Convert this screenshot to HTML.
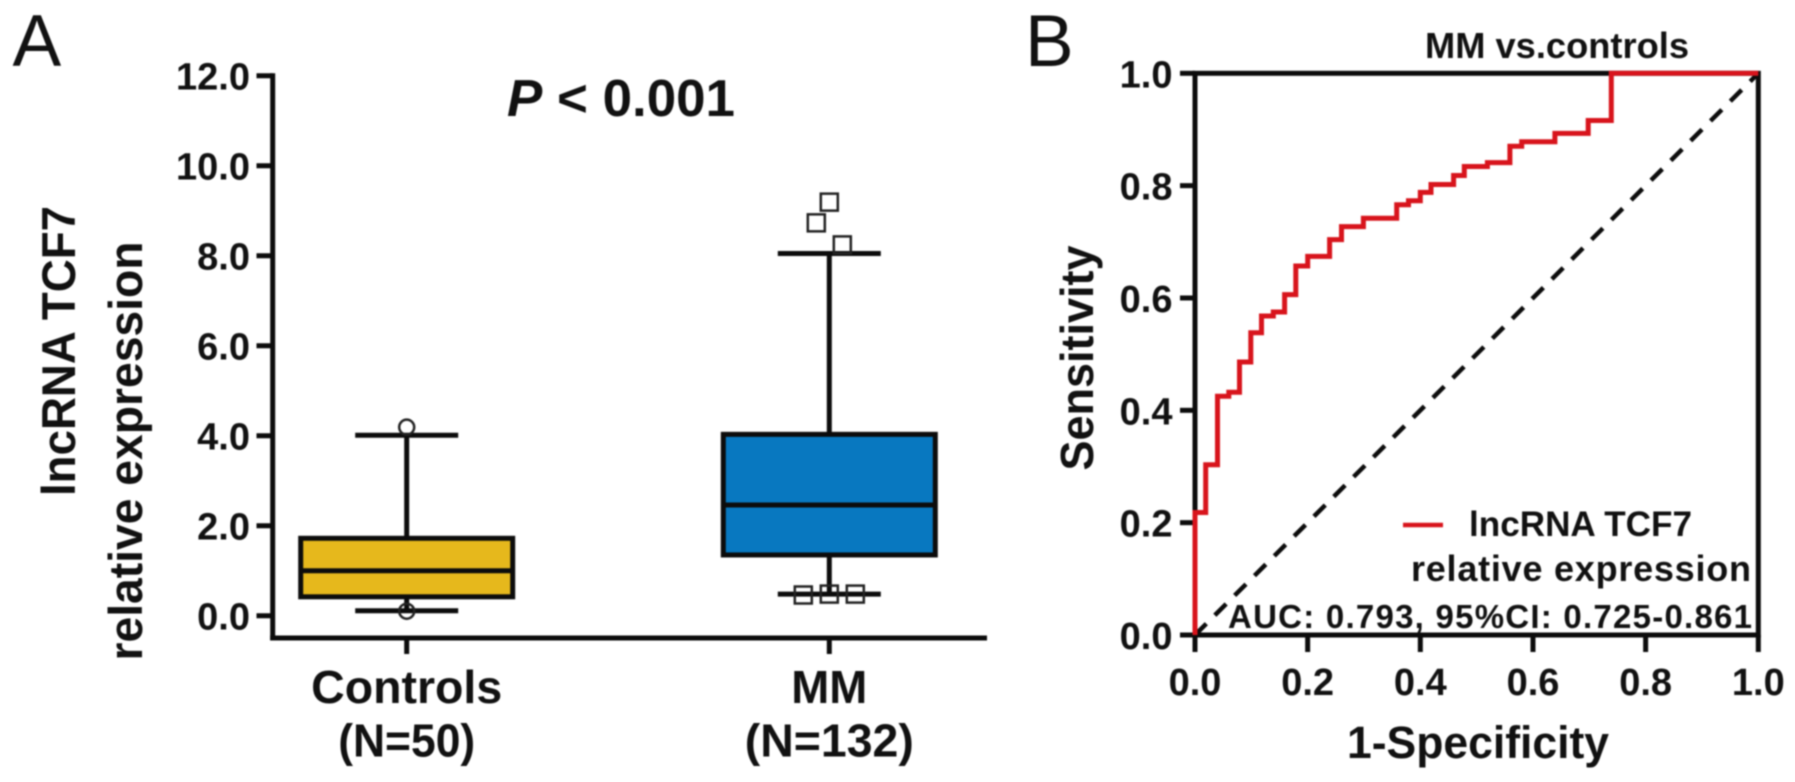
<!DOCTYPE html>
<html lang="en">
<head>
<meta charset="utf-8">
<title>lncRNA TCF7 expression and ROC curve</title>
<style>
html,body{margin:0;padding:0;background:#fff;width:1795px;height:782px;overflow:hidden}
svg{display:block;filter:blur(0.7px)}
text{font-family:"Liberation Sans",sans-serif;fill:#111;font-weight:bold}
</style>
</head>
<body>
<svg id="fig" xmlns="http://www.w3.org/2000/svg" width="1795" height="782" viewBox="0 0 1795 782">
  <text x="12.5" y="66" font-size="73" style="font-weight:normal">A</text>
  <text x="1025" y="66" font-size="73" style="font-weight:normal">B</text>

  <text x="507" y="116" font-size="52" textLength="228" lengthAdjust="spacingAndGlyphs"><tspan font-style="italic">P</tspan> &lt; 0.001</text>
  <text transform="translate(75,351) rotate(-90)" text-anchor="middle" font-size="47" textLength="290" lengthAdjust="spacingAndGlyphs">lncRNA TCF7</text>
  <text transform="translate(142,451) rotate(-90)" text-anchor="middle" font-size="47" textLength="419" lengthAdjust="spacingAndGlyphs">relative expression</text>

  <text x="1557" y="58" text-anchor="middle" font-size="36" textLength="264" lengthAdjust="spacingAndGlyphs">MM vs.controls</text>
  <text transform="translate(1093,358) rotate(-90)" text-anchor="middle" font-size="46" textLength="225" lengthAdjust="spacingAndGlyphs">Sensitivity</text>
  <text x="1478" y="758" text-anchor="middle" font-size="45" textLength="262" lengthAdjust="spacingAndGlyphs">1-Specificity</text>

  <g id="panelA"></g>
  <g id="panelB"></g>

  <line x1="1403" y1="525" x2="1443" y2="525" stroke="#d8141c" stroke-width="4.5"/>
  <text x="1469" y="536" font-size="35" textLength="223" lengthAdjust="spacingAndGlyphs">lncRNA TCF7</text>
  <text x="1411" y="581" font-size="36" textLength="340" lengthAdjust="spacing">relative expression</text>
  <text x="1228" y="628" font-size="33" textLength="524" lengthAdjust="spacing">AUC: 0.793, 95%CI: 0.725-0.861</text>
</svg>

<script>
// Box plot data
const boxCategories = ["Controls", "MM"];
const boxGroupSizes = ["(N=50)", "(N=132)"];
const boxQ1 = [0.42, 1.35];
const boxMedian = [1.0, 2.46];
const boxQ3 = [1.72, 4.03];
const boxWhiskerLow = [0.11, 0.48];
const boxWhiskerHigh = [4.01, 8.05];
const controlsOutliers = [4.19, 0.1];
const mmOutliers = [9.19, 8.73, 8.24, 0.48, 0.46, 0.48];
const boxYTicks = [0, 2, 4, 6, 8, 10, 12];

// ROC data (step vertices)
const rocFpr = [0, 0, 0.019, 0.019, 0.040, 0.040, 0.060, 0.060, 0.079, 0.079, 0.099, 0.099, 0.118, 0.118, 0.139, 0.139, 0.159, 0.159, 0.179, 0.179, 0.2, 0.2, 0.239, 0.239, 0.26, 0.26, 0.299, 0.299, 0.358, 0.358, 0.379, 0.379, 0.40, 0.40, 0.419, 0.419, 0.459, 0.459, 0.478, 0.478, 0.519, 0.519, 0.559, 0.559, 0.58, 0.58, 0.639, 0.639, 0.698, 0.698, 0.739, 0.739, 1];
const rocTpr = [0, 0.218, 0.218, 0.303, 0.303, 0.425, 0.425, 0.432, 0.432, 0.486, 0.486, 0.538, 0.538, 0.568, 0.568, 0.575, 0.575, 0.606, 0.606, 0.657, 0.657, 0.674, 0.674, 0.704, 0.704, 0.727, 0.727, 0.742, 0.742, 0.766, 0.766, 0.773, 0.773, 0.788, 0.788, 0.802, 0.802, 0.818, 0.818, 0.834, 0.834, 0.841, 0.841, 0.87, 0.87, 0.878, 0.878, 0.893, 0.893, 0.916, 0.916, 1, 1];
const rocTicks = [0, 0.2, 0.4, 0.6, 0.8, 1.0];

const NS = "http://www.w3.org/2000/svg";
const INK = "#0c0c0c";
function mk(parent, tag, attrs) {
  const e = document.createElementNS(NS, tag);
  for (const k in attrs) e.setAttribute(k, attrs[k]);
  parent.appendChild(e);
  return e;
}
function line(parent, x1, y1, x2, y2, w, color) {
  return mk(parent, "line", {x1: x1, y1: y1, x2: x2, y2: y2, stroke: color || INK, "stroke-width": w});
}

// ---------- Panel A ----------
const pa = document.getElementById("panelA");
const yA = v => 615.7 - v * 45;
const xA = i => 406.7 + i * 422.6;
const AW = 5;

// y axis
let el = line(pa, 272.7, yA(12) - 2.5, 272.7, 640.5, AW);


// x axis
el = line(pa, 270.2, 638, 987, 638, AW);



boxYTicks.forEach(v => {
  const t = line(pa, 256.5, yA(v), 272.7, yA(v), AW);
  
  
  const l = mk(pa, "text", {x: 250, y: yA(v) + 14, "text-anchor": "end", "font-size": 38});
  l.textContent = v.toFixed(1);
  
  
});

const boxFills = ["#e6b81c", "#0878c0"];
const halfBox = 106, halfCap = 51.5;

// spread near-equal outliers sideways the way the plotting tool does
function dodge(values) {
  let side = -1;
  return values.map((v, i) => {
    if (i === 0) return 0;
    const d = Math.abs(v - values[i - 1]);
    if (d > 1) { side = -1; return 0; }
    const step = d < 0.1 ? 26 : 13;
    const r = side * step;
    side = -side;
    return r;
  });
}

boxCategories.forEach((name, i) => {
  const cx = xA(i);
  const tick = line(pa, cx, 638, cx, 654, AW);
  
  

  const w1 = line(pa, cx, yA(boxWhiskerHigh[i]), cx, yA(boxQ3[i]), AW);
  
  
  const w2 = line(pa, cx, yA(boxQ1[i]), cx, yA(boxWhiskerLow[i]), AW);
  
  
  const c1 = line(pa, cx - halfCap, yA(boxWhiskerHigh[i]), cx + halfCap, yA(boxWhiskerHigh[i]), AW);
  
  
  const c2 = line(pa, cx - halfCap, yA(boxWhiskerLow[i]), cx + halfCap, yA(boxWhiskerLow[i]), AW);
  
  

  const box = mk(pa, "rect", {x: cx - halfBox, y: yA(boxQ3[i]), width: halfBox * 2, height: yA(boxQ1[i]) - yA(boxQ3[i]), fill: boxFills[i], stroke: INK, "stroke-width": AW});
  
  
  const med = line(pa, cx - halfBox, yA(boxMedian[i]), cx + halfBox, yA(boxMedian[i]), AW);
  
  

  const catWidths = [191, 76];
  const sizeWidths = [137, 169];
  const l1 = mk(pa, "text", {x: cx, y: 703, "text-anchor": "middle", "font-size": 46, textLength: catWidths[i], lengthAdjust: "spacingAndGlyphs"});
  l1.textContent = name;
  
  
  const l2 = mk(pa, "text", {x: cx, y: 756.5, "text-anchor": "middle", "font-size": 46, textLength: sizeWidths[i], lengthAdjust: "spacingAndGlyphs"});
  l2.textContent = boxGroupSizes[i];
  
  
});

controlsOutliers.forEach(v => {
  const c = mk(pa, "circle", {cx: xA(0), cy: yA(v), r: 7.5, fill: "none", stroke: "#222", "stroke-width": 2.5});
  
  
});
const mmDodge = dodge(mmOutliers);
mmOutliers.forEach((v, i) => {
  const s = mk(pa, "rect", {x: xA(1) + mmDodge[i] - 8.5, y: yA(v) - 8.5, width: 17, height: 17, fill: "none", stroke: "#222", "stroke-width": 2.5});
  
  
});

// ---------- Panel B ----------
const pb = document.getElementById("panelB");
const xB = v => 1195 + v * 563.3;
const yB = v => 635 - v * 561.7;

rocTicks.forEach(v => {
  const ty = line(pb, 1180, yB(v), 1195, yB(v), AW);
  
  
  const ly = mk(pb, "text", {x: 1172.5, y: yB(v) + 14, "text-anchor": "end", "font-size": 38});
  ly.textContent = v.toFixed(1);
  
  
  const tx = line(pb, xB(v), yB(0), xB(v), 652, AW);
  
  
  const lx = mk(pb, "text", {x: xB(v), y: 695, "text-anchor": "middle", "font-size": 38});
  lx.textContent = v.toFixed(1);
  
  
});

const frame = mk(pb, "rect", {x: xB(0), y: yB(1), width: xB(1) - xB(0), height: yB(0) - yB(1), fill: "none", stroke: INK, "stroke-width": AW});



const diag = line(pb, xB(0), yB(0), xB(1), yB(1), 4.5);
diag.setAttribute('stroke-dasharray', '16 12');



const rocPoints = rocFpr.map((x, i) => xB(x).toFixed(1) + "," + yB(rocTpr[i]).toFixed(1)).join(" ");
const roc = mk(pb, "polyline", {points: rocPoints, fill: "none", stroke: "#d8141c", "stroke-width": 5, "stroke-linejoin": "miter"});


</script>
</body>
</html>
